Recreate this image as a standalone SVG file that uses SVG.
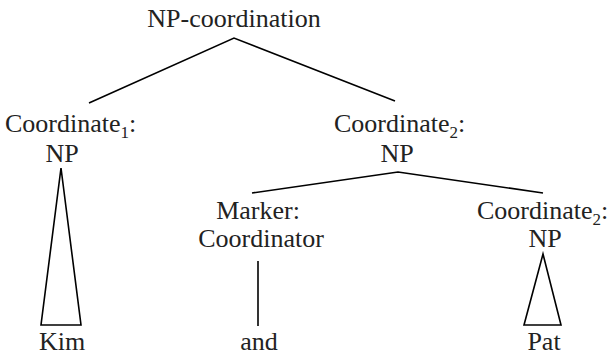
<svg xmlns="http://www.w3.org/2000/svg" width="610" height="355" viewBox="0 0 610 355">
<style>
.t{font-family:'Liberation Serif','DejaVu Serif',serif;font-size:26px;fill:#222}
.m{text-anchor:middle}
.sub{font-size:17px}
.e{stroke:#000;stroke-width:1.6;fill:none}
</style>
<rect width="610" height="355" fill="#fff"/>
<g id="connectors">
<polyline class="e" points="89,103 234,38 395,101"/>
<polyline class="e" points="252,193 398,172 543,193"/>
<polygon class="e" points="61,168 41,325 81,325"/>
<line class="e" x1="258" y1="261" x2="258" y2="326"/>
<polygon class="e" points="543,254 524,325 561,325"/>
</g>
<g id="root"><text class="t m" x="234" y="27">NP-coordination</text></g>
<g id="coord1"><text class="t" x="5" y="132">Coordinate<tspan class="sub" dy="6">1</tspan><tspan dy="-6">:</tspan></text><text class="t m" x="62" y="162">NP</text></g>
<g id="coord2"><text class="t" x="334" y="132">Coordinate<tspan class="sub" dy="6">2</tspan><tspan dy="-6">:</tspan></text><text class="t m" x="397" y="162">NP</text></g>
<g id="marker"><text class="t m" x="258" y="219">Marker:</text><text class="t m" x="261" y="247">Coordinator</text></g>
<g id="coord2b"><text class="t" x="477" y="219">Coordinate<tspan class="sub" dy="6">2</tspan><tspan dy="-6">:</tspan></text><text class="t m" x="545" y="247">NP</text></g>
<g id="kim"><text class="t m" x="62" y="350">Kim</text></g>
<g id="and"><text class="t m" x="259" y="350">and</text></g>
<g id="pat"><text class="t m" x="544" y="350">Pat</text></g>
</svg>
